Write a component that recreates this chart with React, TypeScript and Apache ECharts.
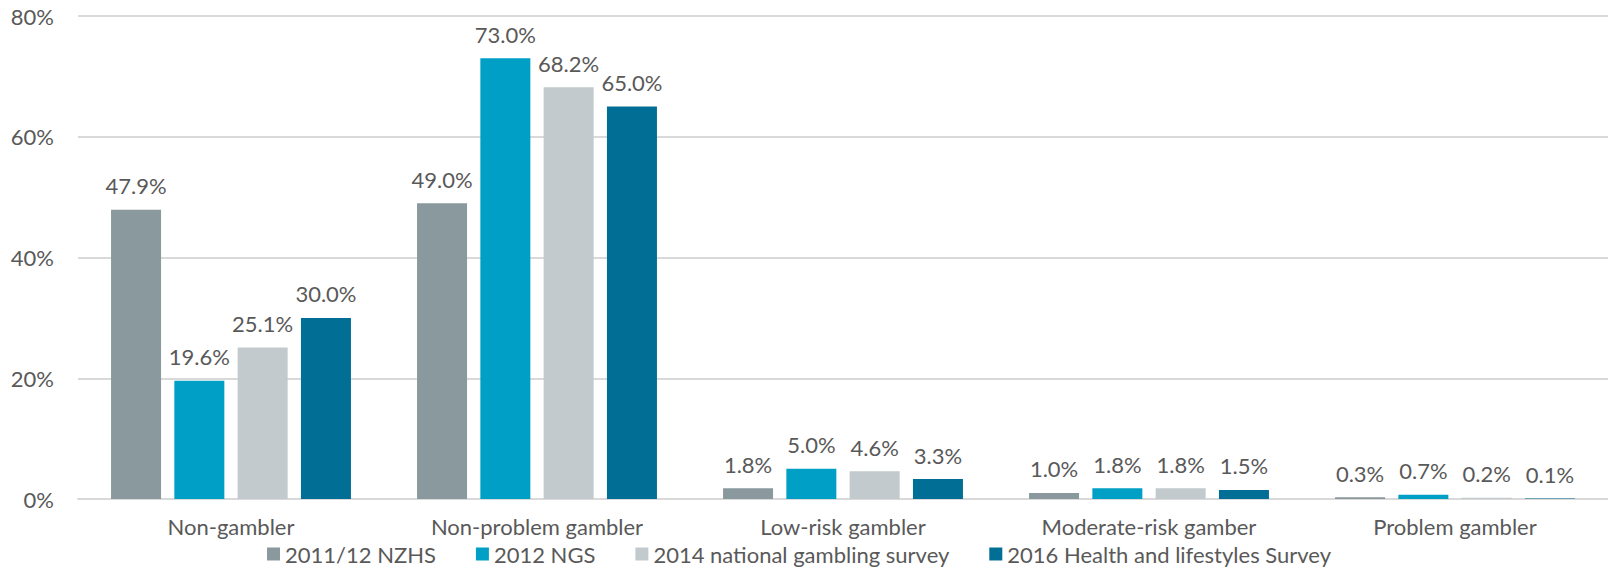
import React, { useEffect, useRef } from "react";
import * as echarts from "echarts";

const categories = ["Non-gambler", "Non-problem gambler", "Low-risk gambler", "Moderate-risk gamber", "Problem gambler"];
const seriesNames = ["2011/12 NZHS", "2012 NGS", "2014 national gambling survey", "2016 Health and lifestyles Survey"];
const nzhs2011 = [47.9, 49.0, 1.8, 1.0, 0.3];
const ngs2012 = [19.6, 73.0, 5.0, 1.8, 0.7];
const ngs2014 = [25.1, 68.2, 4.6, 1.8, 0.2];
const hls2016 = [30.0, 65.0, 3.3, 1.5, 0.1];
const colors = ["#8A999D", "#00A0C6", "#C2CACD", "#006E95"];

const FONT = "Lato, 'Open Sans', sans-serif";
const TXT = "#595959";
const FS = 22;

export default function App() {
  const ref = useRef<HTMLDivElement>(null);
  useEffect(() => {
    if (!ref.current) return;
    const chart = echarts.init(ref.current, undefined, { renderer: "svg" });
    const data = [nzhs2011, ngs2012, ngs2014, hls2016];
    chart.setOption({
      animation: false,
      textStyle: { fontFamily: FONT },
      grid: { left: 78, right: 0, top: 16, bottom: 68, containLabel: false },
      legend: {
        data: seriesNames,
        left: 262,
        top: 538,
        itemWidth: 13,
        itemHeight: 13,
        itemGap: 40,
        icon: "rect",
        textStyle: { fontFamily: FONT, fontSize: FS, color: TXT, lineHeight: 22 },
      },
      xAxis: {
        type: "category",
        data: categories,
        axisLine: { lineStyle: { color: "#D9D9D9", width: 2 } },
        axisTick: { show: false },
        axisLabel: { color: TXT, fontSize: FS, fontFamily: FONT, margin: 16, lineHeight: 22 },
      },
      yAxis: {
        type: "value",
        min: 0,
        max: 80,
        interval: 20,
        axisLabel: { formatter: "{value}%", color: TXT, fontSize: FS, fontFamily: FONT, margin: 24 },
        splitLine: { lineStyle: { color: "#D9D9D9", width: 2 } },
        axisLine: { show: false },
        axisTick: { show: false },
      },
      series: seriesNames.map((name, i) => ({
        name,
        type: "bar",
        data: data[i],
        barWidth: 50,
        barGap: "26.6%",
        itemStyle: { color: colors[i] },
        label: {
          show: true,
          position: "top",
          distance: 13,
          color: TXT,
          fontSize: FS,
          fontFamily: FONT,
          formatter: (p: any) => p.value.toFixed(1) + "%",
        },
      })),
    });
    return () => chart.dispose();
  }, []);
  return <div ref={ref} style={{ width: 1608, height: 567, position: "absolute", left: 0, top: 0 }} />;
}
